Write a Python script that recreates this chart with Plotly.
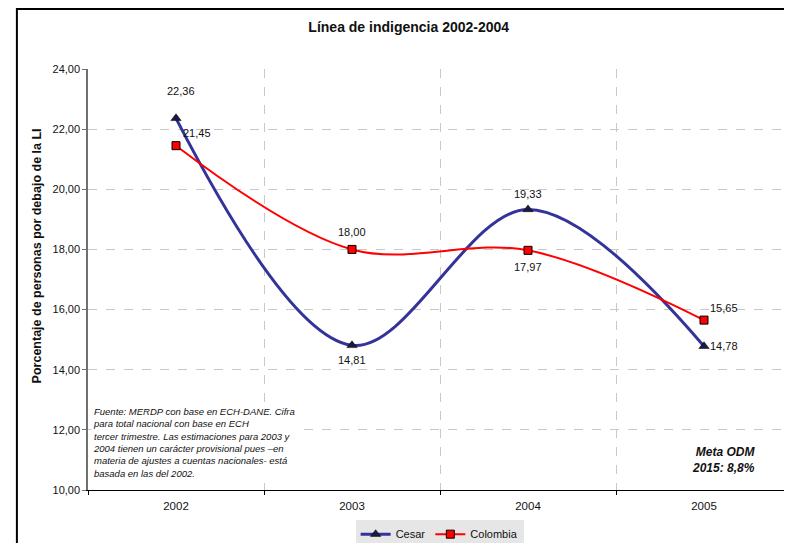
import plotly.graph_objects as go

# ── Data ──────────────────────────────────────────────────────────────────────
years = ["2002", "2003", "2004", "2005"]
cesar = [22.36, 14.81, 19.33, 14.78]
colombia = [21.45, 18.00, 17.97, 15.65]

NOTE = ("Fuente: MERDP con base en ECH-DANE. Cifra<br>"
        "para total nacional con base en ECH<br>"
        "tercer trimestre. Las estimaciones para 2003 y<br>"
        "2004 tienen un carácter provisional pues –en<br>"
        "materia de ajustes a cuentas nacionales- está<br>"
        "basada en las del 2002.")

FONT = "Liberation Sans, Arial, sans-serif"
NAVY = "#333399"
RED = "#FF0000"

xs = list(range(len(years)))


def _fmt(v):
    return f"{v:.2f}".replace(".", ",")


fig = go.Figure()

fig.add_trace(go.Scatter(
    x=xs, y=cesar, name="Cesar", mode="lines+markers",
    line=dict(color=NAVY, width=3, shape="spline", smoothing=1.0),
    marker=dict(symbol="triangle-up", size=9, color="#1a1a40",
                line=dict(color="black", width=0.5)),
))
fig.add_trace(go.Scatter(
    x=xs, y=colombia, name="Colombia", mode="lines+markers",
    line=dict(color=RED, width=2, shape="spline", smoothing=1.0),
    marker=dict(symbol="square", size=8, color=RED,
                line=dict(color="black", width=1)),
))

# ── Data labels (offsets in px from each point) ───────────────────────────────
cesar_shift = [(5, 27), (0, -15), (0, 15), (20, 0)]
colombia_shift = [(21, 13), (0, 17), (0, -17), (20, 12)]

annotations = []
for series, shifts in ((cesar, cesar_shift), (colombia, colombia_shift)):
    for x, v, (dx, dy) in zip(xs, series, shifts):
        annotations.append(dict(
            x=x, y=v, xref="x", yref="y", text=_fmt(v), showarrow=False,
            xshift=dx, yshift=dy, font=dict(family=FONT, size=11, color="#111"),
        ))

# source note
annotations.append(dict(
    x=0.004, y=0.204, xref="paper", yref="paper", xanchor="left", yanchor="top",
    text=f"<i>{NOTE}</i>", align="left", showarrow=False, bgcolor="white",
    font=dict(family=FONT, size=9.5, color="#111"),
))
# target note
annotations.append(dict(
    x=0.950, y=0.072, xref="paper", yref="paper", xanchor="right", yanchor="middle",
    text="<b><i>Meta ODM<br>2015: 8,8%</i></b>", align="right", showarrow=False,
    font=dict(family=FONT, size=12, color="#111"),
))
# y-axis title
annotations.append(dict(
    x=-0.0724, y=0.555, xref="paper", yref="paper", xanchor="center",
    yanchor="middle", textangle=-90, showarrow=False,
    text="<b>Porcentaje de personas por debajo de la LI</b>",
    font=dict(family=FONT, size=12.5, color="#111"),
))

fig.update_layout(
    width=792, height=543,
    margin=dict(l=80, r=8, t=61, b=61),
    paper_bgcolor="white", plot_bgcolor="white",
    separators=",.",
    font=dict(family=FONT, size=11, color="#111"),
    title=dict(text="<b>Línea de indigencia 2002-2004</b>", xref="container",
               x=0.506, xanchor="center", y=0.965, yanchor="middle",
               font=dict(family=FONT, size=14, color="#111")),
    showlegend=True,
    legend=dict(orientation="h", xref="container", yref="container",
                x=0.545, xanchor="center", y=0.031, yanchor="middle",
                bgcolor="#e6e6e6", borderwidth=0,
                font=dict(family=FONT, size=11, color="#111"),
                itemwidth=30, tracegroupgap=0),
    annotations=annotations,
    shapes=[dict(type="rect", xref="paper", yref="paper",
                 x0=-0.101, x1=1.1, y0=-0.3, y1=1.1425,
                 line=dict(color="black", width=2), layer="below")],
)

fig.update_xaxes(
    range=[-0.5, 3.5], tickvals=xs, ticktext=years, ticks="",
    showgrid=False, zeroline=False,
    showline=True, linecolor="black", linewidth=1.2,
    ticklabelstandoff=5,
    tickfont=dict(family=FONT, size=11.5, color="#111"),
    minor=dict(tick0=0.5, dtick=1, showgrid=True, gridcolor="#C8C8C8",
               griddash="dash", gridwidth=1, ticks="outside", ticklen=4,
               tickcolor="black"),
)
fig.update_yaxes(
    range=[10, 24], dtick=2, tickformat=".2f",
    showgrid=True, gridcolor="#C8C8C8", griddash="dash", gridwidth=1,
    zeroline=False, showline=True, linecolor="#707070", linewidth=1.5,
    ticks="outside", ticklen=4, tickcolor="#707070",
    tickfont=dict(family=FONT, size=11, color="#111"),
)

fig.write_html("out.html")
